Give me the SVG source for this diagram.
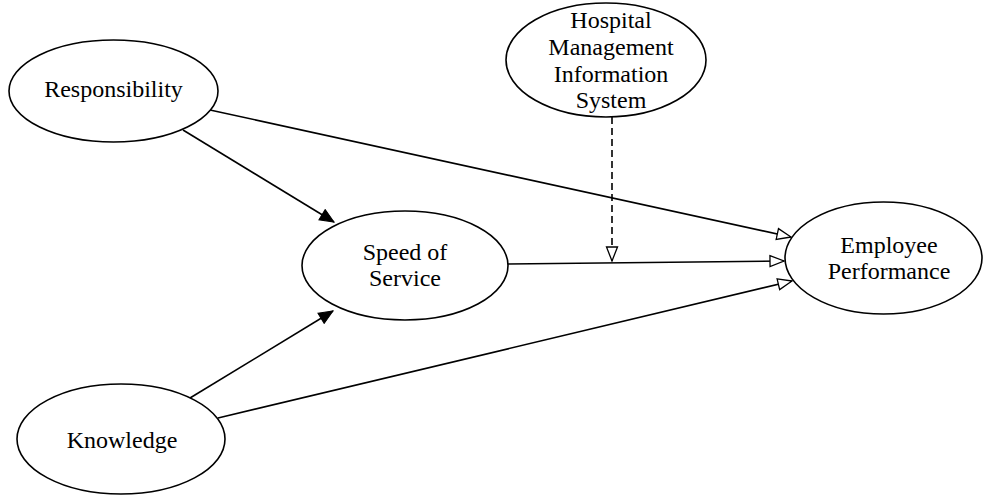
<svg xmlns="http://www.w3.org/2000/svg" width="984" height="495" viewBox="0 0 984 495">
<style>
  .node ellipse { fill: #ffffff; stroke: #000000; stroke-width: 1.6; }
  .node text { font-family: "Liberation Serif", "Times New Roman", serif; font-size: 24px; fill: #000000; text-anchor: middle; }
  .edge { stroke: #000000; stroke-width: 1.6; fill: none; }
  .dashed { stroke-dasharray: 7 4; }
</style>
<defs>
  <marker id="filled" markerUnits="userSpaceOnUse" markerWidth="16" markerHeight="14" refX="15" refY="7" orient="auto">
    <path d="M1,1 L15,7 L1,13 z" fill="#000000" stroke="#000000" stroke-width="1"/>
  </marker>
  <marker id="open" markerUnits="userSpaceOnUse" markerWidth="17" markerHeight="14" refX="15" refY="7" orient="auto">
    <path d="M1,1.5 L15,7 L1,12.5 z" fill="#ffffff" stroke="#000000" stroke-width="1.3"/>
  </marker>
</defs>
<rect x="0" y="0" width="984" height="495" fill="#ffffff"/>
<g id="connectors">
  <line class="edge" x1="183" y1="130" x2="334" y2="222" marker-end="url(#filled)"/>
  <line class="edge" x1="190" y1="398" x2="333" y2="311" marker-end="url(#filled)"/>
  <line class="edge" x1="210" y1="110" x2="791" y2="237" marker-end="url(#open)"/>
  <line class="edge" x1="508" y1="264" x2="784" y2="261" marker-end="url(#open)"/>
  <line class="edge" x1="218" y1="418" x2="792" y2="281" marker-end="url(#open)"/>
  <line class="edge dashed" x1="612" y1="117" x2="612" y2="261" marker-end="url(#open)"/>
</g>
<g id="responsibility" class="node">
  <ellipse cx="113.5" cy="91" rx="104.5" ry="51"/>
  <text x="113.5" y="97">Responsibility</text>
</g>
<g id="hmis" class="node">
  <ellipse cx="606" cy="60" rx="100" ry="57"/>
  <text x="611" y="28">Hospital</text>
  <text x="611" y="55">Management</text>
  <text x="611" y="82">Information</text>
  <text x="611" y="108">System</text>
</g>
<g id="speed" class="node">
  <ellipse cx="405" cy="265.5" rx="103" ry="54.5"/>
  <text x="405" y="260">Speed of</text>
  <text x="405" y="286">Service</text>
</g>
<g id="employee" class="node">
  <ellipse cx="883.5" cy="258" rx="98.5" ry="56"/>
  <text x="889" y="253">Employee</text>
  <text x="889" y="279">Performance</text>
</g>
<g id="knowledge" class="node">
  <ellipse cx="121" cy="439" rx="104" ry="55"/>
  <text x="122" y="448">Knowledge</text>
</g>
</svg>
